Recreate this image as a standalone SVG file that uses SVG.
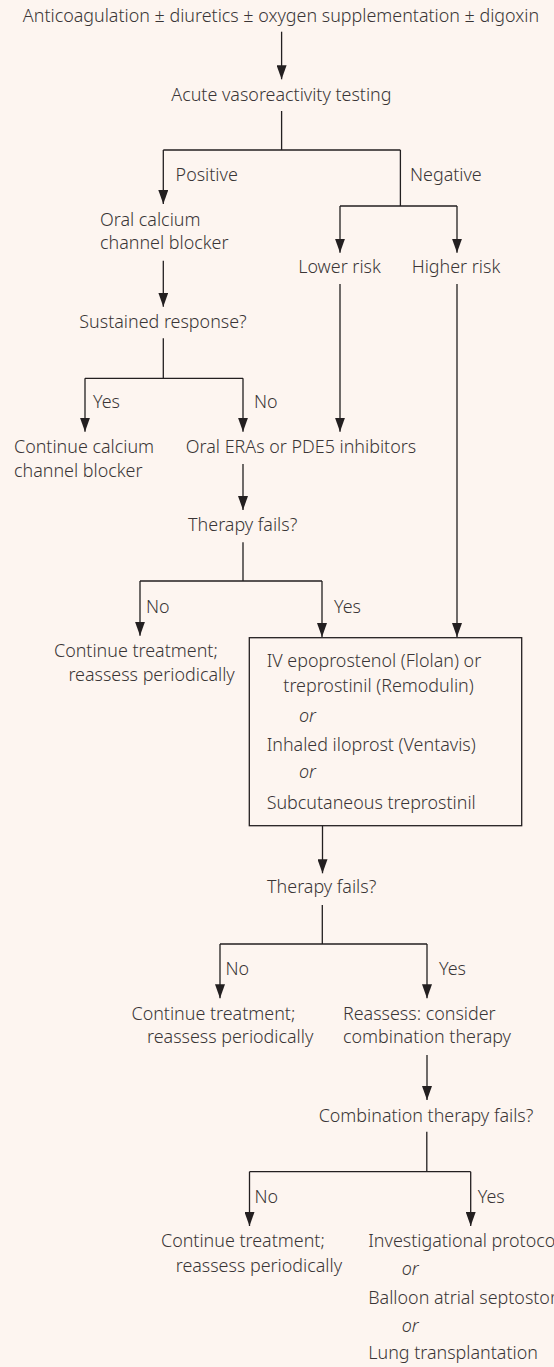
<svg xmlns="http://www.w3.org/2000/svg" width="554" height="1367" viewBox="0 0 554 1367">
  <defs>
    <marker id="ah" viewBox="0 0 14 10" refX="14" refY="5" markerWidth="14" markerHeight="10" markerUnits="userSpaceOnUse" orient="auto">
      <path d="M0,0 L14,5 L0,10 Z" fill="#231f20"/>
    </marker>
    <style>
      text { font-family: "Noto Sans", "Open Sans", "Liberation Sans", sans-serif; font-size: 17.9px; font-weight: 300; fill: #3a3536; }
      .c { text-anchor: middle; }
      .i { font-style: italic; }
      .ln { fill: none; stroke: #231f20; stroke-width: 1.3; }
      .ar { fill: none; stroke: #231f20; stroke-width: 1.3; marker-end: url(#ah); }
      .box { fill: none; stroke: #231f20; stroke-width: 1.3; }
    </style>
  </defs>
  <rect x="0" y="0" width="554" height="1367" fill="#fdf5f0"/>

  <g id="connectors">
    <path class="ar" d="M281.6,31.7 V79.3"/>
    <path class="ln" d="M281.6,111 V150 M163.3,150 H400.4"/>
    <path class="ar" d="M163.3,150 V204"/>
    <path class="ln" d="M400.4,150 V206 M340,206 H457"/>
    <path class="ar" d="M340,206 V252.7"/>
    <path class="ar" d="M457,206 V252.7"/>
    <path class="ar" d="M163.3,260.7 V306.7"/>
    <path class="ln" d="M163.3,338.3 V378.3 M85,378.3 H243"/>
    <path class="ar" d="M85,378.3 V431.7"/>
    <path class="ar" d="M243,378.3 V431.7"/>
    <path class="ar" d="M340,284 V431.7"/>
    <path class="ar" d="M457,284 V637"/>
    <path class="ar" d="M243,464 V510"/>
    <path class="ln" d="M243,542.3 V581 M140,581 H322"/>
    <path class="ar" d="M140,581 V635.7"/>
    <path class="ar" d="M322,581 V637"/>
    <path class="ar" d="M322.5,825.7 V873.3"/>
    <path class="ln" d="M322.3,905 V944 M220,944 H427"/>
    <path class="ar" d="M220,944 V998.3"/>
    <path class="ar" d="M427,944 V998.3"/>
    <path class="ar" d="M427,1055 V1100"/>
    <path class="ln" d="M426.8,1131.7 V1171.7 M249.5,1171.7 H470.7"/>
    <path class="ar" d="M249.5,1171.7 V1226"/>
    <path class="ar" d="M470.7,1171.7 V1226"/>
  </g>

  <g id="labels">
    <text x="175.6" y="181">Positive</text>
    <text x="410" y="181">Negative</text>
    <text x="93" y="408.3">Yes</text>
    <text x="254" y="408.3">No</text>
    <text x="146" y="612.7">No</text>
    <text x="334" y="612.7">Yes</text>
    <text x="225.5" y="975">No</text>
    <text x="439" y="975">Yes</text>
    <text x="254.4" y="1202.7">No</text>
    <text x="477.7" y="1202.7">Yes</text>
  </g>

  <g id="n-start"><text class="c" x="281" y="21.7">Anticoagulation ± diuretics ± oxygen supplementation ± digoxin</text></g>
  <g id="n-avt"><text class="c" x="281.4" y="100.7">Acute vasoreactivity testing</text></g>
  <g id="n-ccb"><text x="100" y="226">Oral calcium</text><text x="100" y="249">channel blocker</text></g>
  <g id="n-lower"><text class="c" x="339.5" y="272.7">Lower risk</text></g>
  <g id="n-higher"><text class="c" x="456" y="272.7">Higher risk</text></g>
  <g id="n-sustained"><text class="c" x="163" y="328.3">Sustained response?</text></g>
  <g id="n-continue-ccb"><text x="14" y="452.7">Continue calcium</text><text x="14" y="476.7">channel blocker</text></g>
  <g id="n-era"><text class="c" x="301" y="452.7">Oral ERAs or PDE5 inhibitors</text></g>
  <g id="n-fails1"><text class="c" x="242.7" y="531">Therapy fails?</text></g>
  <g id="n-continue1"><text x="54" y="656.7">Continue treatment;</text><text x="68.4" y="681">reassess periodically</text></g>
  <g id="n-box">
    <rect class="box" x="249.3" y="637.7" width="272.4" height="188"/>
    <text x="266.7" y="667.3">IV epoprostenol (Flolan) or</text>
    <text x="283.3" y="692.3">treprostinil (Remodulin)</text>
    <text class="i" x="299" y="721.7">or</text>
    <text x="266.7" y="750.7">Inhaled iloprost (Ventavis)</text>
    <text class="i" x="299" y="778.3">or</text>
    <text x="266.7" y="809">Subcutaneous treprostinil</text>
  </g>
  <g id="n-fails2"><text class="c" x="321.7" y="893.3">Therapy fails?</text></g>
  <g id="n-continue2"><text x="131.5" y="1020">Continue treatment;</text><text x="147" y="1043.3">reassess periodically</text></g>
  <g id="n-reassess"><text x="343" y="1020">Reassess: consider</text><text x="343" y="1043.3">combination therapy</text></g>
  <g id="n-combo"><text class="c" x="426" y="1121.7">Combination therapy fails?</text></g>
  <g id="n-continue3"><text x="161" y="1246.7">Continue treatment;</text><text x="175.7" y="1271.7">reassess periodically</text></g>
  <g id="n-final">
    <text x="368.3" y="1246.7">Investigational protocol</text>
    <text class="i" x="401.7" y="1275">or</text>
    <text x="368.3" y="1304">Balloon atrial septostomy</text>
    <text class="i" x="401.7" y="1331.7">or</text>
    <text x="368.3" y="1359.3">Lung transplantation</text>
  </g>
</svg>
